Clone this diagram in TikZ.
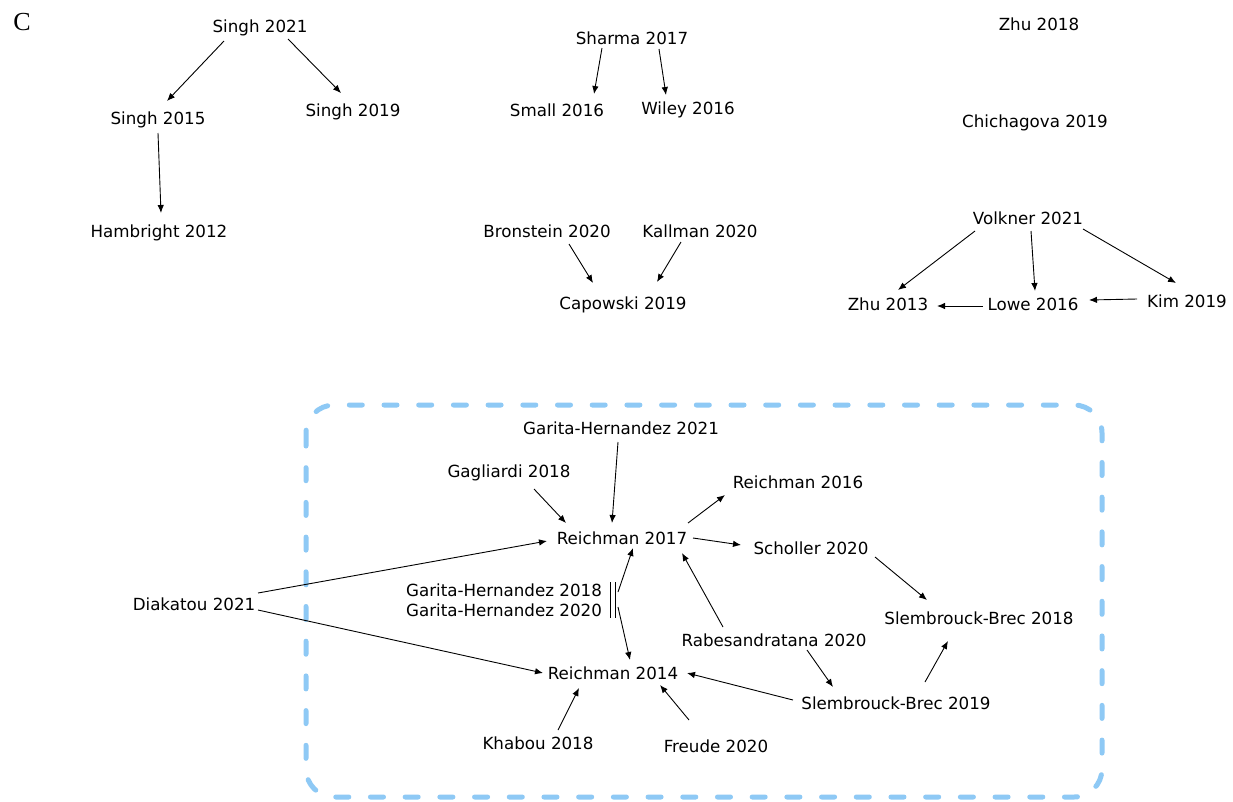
\documentclass[tikz,border=0pt]{standalone}
\usepackage{fontspec}
\usetikzlibrary{arrows.meta,calc}
\newfontfamily\dvs{DejaVu Sans}
\newfontfamily\lserif{Liberation Serif}
\definecolor{boxblue}{RGB}{142,201,245}
\tikzset{
  lbl/.style={font=\dvs\fontsize{16.7}{20}\selectfont, inner sep=0pt, text height=12.2pt, text depth=0pt},
  arr/.style={-{Latex[length=8pt,width=6.5pt]}, line width=0.9pt, black},
  grpbox/.style={draw=boxblue, line width=5pt, dash pattern=on 13pt off 21.7pt, line cap=round, rounded corners=28pt}
}
\begin{document}
\begin{tikzpicture}[x=1pt,y=-1pt]
\useasboundingbox (0,0) rectangle (1233,801);
\fill[white] (0,0) rectangle (1233,801);
\draw[grpbox] (306,405) rectangle (1102,797);

\node[font=\lserif\fontsize{26}{30}\selectfont, inner sep=0pt] (lbC) at (22,22) {C};

% top-left cluster
\node[lbl] (s21) at (260,26) {Singh 2021};
\node[lbl] (s15) at (158,118) {Singh 2015};
\node[lbl] (s19) at (353,110) {Singh 2019};
\node[lbl] (ham) at (159,231) {Hambright 2012};
% top-middle
\node[lbl] (sha) at (632,38) {Sharma 2017};
\node[lbl] (sma) at (557,110) {Small 2016};
\node[lbl] (wil) at (688,108) {Wiley 2016};
\node[lbl] (bro) at (547,231) {Bronstein 2020};
\node[lbl] (kal) at (700,231) {Kallman 2020};
\node[lbl] (cap) at (623,303) {Capowski 2019};
% top-right
\node[lbl] (zhu18) at (1039,24) {Zhu 2018};
\node[lbl] (chi) at (1035,121) {Chichagova 2019};
\node[lbl] (vol) at (1028,218) {Volkner 2021};
\node[lbl] (zhu13) at (888,304) {Zhu 2013};
\node[lbl] (low) at (1033,304) {Lowe 2016};
\node[lbl] (kim) at (1187,301) {Kim 2019};
% bottom
\node[lbl] (gh21) at (621,428) {Garita-Hernandez 2021};
\node[lbl] (gag) at (509,471) {Gagliardi 2018};
\node[lbl] (r16) at (798,482) {Reichman 2016};
\node[lbl] (r17) at (622,538) {Reichman 2017};
\node[lbl] (sch) at (811,548) {Scholler 2020};
\node[lbl] (dia) at (194,604) {Diakatou 2021};
\node[lbl] (gh18) at (504,590) {Garita-Hernandez 2018};
\node[lbl] (gh20) at (504,610) {Garita-Hernandez 2020};
\node[lbl] (sb18) at (979,618) {Slembrouck-Brec 2018};
\node[lbl] (rab) at (774,640) {Rabesandratana 2020};
\node[lbl] (r14) at (613,673) {Reichman 2014};
\node[lbl] (sb19) at (896,703) {Slembrouck-Brec 2019};
\node[lbl] (kha) at (538,743) {Khabou 2018};
\node[lbl] (fre) at (716,746) {Freude 2020};

% arrows top
\draw[arr] ($(s21)+(-36,15)$) -- ($(s15)+(9,-17)$);
\draw[arr] ($(s21)+(28,13)$) -- ($(s19)+(-12,-17)$);
\draw[arr] ($(s15)+(0,15)$) -- ($(ham)+(2,-18)$);
\draw[arr] ($(sha)+(-30,10)$) -- ($(sma)+(37,-16)$);
\draw[arr] ($(sha)+(27,11)$) -- ($(wil)+(-22,-13)$);
\draw[arr] ($(bro)+(22,13)$) -- ($(cap)+(-30,-20)$);
\draw[arr] ($(kal)+(-19,11)$) -- ($(cap)+(34,-21)$);
\draw[arr] ($(vol)+(-53,13)$) -- ($(zhu13)+(10,-14)$);
\draw[arr] ($(vol)+(3,13)$) -- ($(low)+(2,-13)$);
\draw[arr] ($(vol)+(55,11)$) -- ($(kim)+(-11,-18)$);
\draw[arr] ($(low)+(-50,2)$) -- ($(zhu13)+(49,2)$);
\draw[arr] ($(kim)+(-50,-2)$) -- ($(low)+(56,-4)$);

% arrows bottom
\draw[arr] ($(gh21)+(-3,14)$) -- ($(r17)+(-10,-15)$);
\draw[arr] ($(gag)+(25,18)$) -- ($(r17)+(-56,-15)$);
\draw[arr] ($(dia)+(64,-11)$) -- ($(r17)+(-75,3)$);
\draw[arr] ($(dia)+(64,6)$) -- ($(r14)+(-70,0)$);
\draw[arr] ($(r17)+(66,-15)$) -- ($(r16)+(-73,13)$);
\draw[arr] ($(r17)+(71,0)$) -- ($(sch)+(-70,-3)$);
\draw[arr] ($(sch)+(64,9)$) -- ($(sb18)+(-52,-18)$);
\draw[arr] ($(rab)+(-51,-13)$) -- ($(r17)+(60,15)$);
\draw[arr] ($(rab)+(33,10)$) -- ($(sb19)+(-63,-16)$);
\draw[arr] ($(sb19)+(29,-21)$) -- ($(sb18)+(-31,23)$);
\draw[arr] ($(sb19)+(-103,-3)$) -- ($(r14)+(74,0)$);
\draw[arr] ($(kha)+(20,-13)$) -- ($(r14)+(-34,15)$);
\draw[arr] ($(fre)+(-27,-26)$) -- ($(r14)+(47,12)$);
\draw[arr] ($(gh18)+(114,2)$) -- ($(r17)+(11,10)$);
\draw[arr] ($(gh20)+(114,-3)$) -- ($(r14)+(17,-13)$);
% grouping bars
\draw[line width=0.9pt] ($(gh18)+(106,-8)$) -- ($(gh20)+(106,8)$);
\draw[line width=0.9pt] ($(gh18)+(111,-8)$) -- ($(gh20)+(111,8)$);
\end{tikzpicture}
\end{document}
